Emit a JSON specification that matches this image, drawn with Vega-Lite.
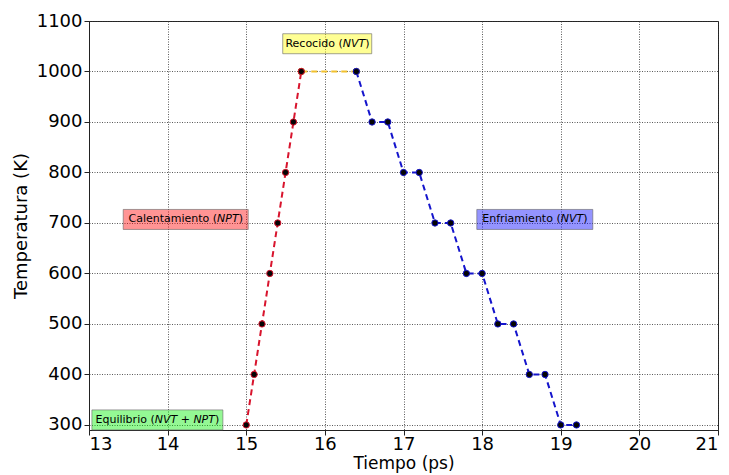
{
  "$schema": "https://vega.github.io/schema/vega-lite/v6.json",
  "width": 629,
  "height": 409,
  "autosize": {"type": "none"},
  "padding": {"left": 89, "top": 21, "right": 11, "bottom": 45},
  "background": "white",
  "config": {
    "font": "DejaVu Sans",
    "view": {"stroke": "#222", "strokeWidth": 1},
    "axis": {
      "domainColor": "#222",
      "domainWidth": 1,
      "tickColor": "#222",
      "tickSize": 5,
      "tickWidth": 1,
      "labelFont": "DejaVu Sans",
      "labelFontSize": 18,
      "labelColor": "black",
      "labelPadding": 2,
      "titleFont": "DejaVu Sans",
      "titleFontSize": 18,
      "titleFontWeight": "normal",
      "titleColor": "black",
      "grid": true,
      "gridColor": "#333",
      "gridOpacity": 0.9,
      "gridWidth": 0.9,
      "gridDash": [1, 1.5]
    }
  },
  "datasets": {
    "serie": [
      {"fase": "Recocido", "t": 15.7, "T": 1000},
      {"fase": "Recocido", "t": 16.4, "T": 1000},
      {"fase": "Calentamiento", "t": 15.0, "T": 300},
      {"fase": "Calentamiento", "t": 15.1, "T": 400},
      {"fase": "Calentamiento", "t": 15.2, "T": 500},
      {"fase": "Calentamiento", "t": 15.3, "T": 600},
      {"fase": "Calentamiento", "t": 15.4, "T": 700},
      {"fase": "Calentamiento", "t": 15.5, "T": 800},
      {"fase": "Calentamiento", "t": 15.6, "T": 900},
      {"fase": "Calentamiento", "t": 15.7, "T": 1000},
      {"fase": "Enfriamiento", "t": 16.4, "T": 1000},
      {"fase": "Enfriamiento", "t": 16.6, "T": 900},
      {"fase": "Enfriamiento", "t": 16.8, "T": 900},
      {"fase": "Enfriamiento", "t": 17.0, "T": 800},
      {"fase": "Enfriamiento", "t": 17.2, "T": 800},
      {"fase": "Enfriamiento", "t": 17.4, "T": 700},
      {"fase": "Enfriamiento", "t": 17.6, "T": 700},
      {"fase": "Enfriamiento", "t": 17.8, "T": 600},
      {"fase": "Enfriamiento", "t": 18.0, "T": 600},
      {"fase": "Enfriamiento", "t": 18.2, "T": 500},
      {"fase": "Enfriamiento", "t": 18.4, "T": 500},
      {"fase": "Enfriamiento", "t": 18.6, "T": 400},
      {"fase": "Enfriamiento", "t": 18.8, "T": 400},
      {"fase": "Enfriamiento", "t": 19.0, "T": 300},
      {"fase": "Enfriamiento", "t": 19.2, "T": 300}
    ],
    "etiquetas": [
      {"fase": "Equilibrio", "t": 13.87, "T": 310, "pre": "Equilibrio (", "ital": "NVT + NPT", "post": ")"},
      {"fase": "Calentamiento", "t": 14.23, "T": 707, "pre": "Calentamiento (", "ital": "NPT", "post": ")"},
      {"fase": "Recocido", "t": 16.03, "T": 1055, "pre": "Recocido (", "ital": "NVT", "post": ")"},
      {"fase": "Enfriamiento", "t": 18.67, "T": 707, "pre": "Enfriamiento (", "ital": "NVT", "post": ")"}
    ]
  },
  "encoding": {
    "x": {
      "field": "t",
      "type": "quantitative",
      "title": "Tiempo (ps)",
      "scale": {"domain": [13, 21], "nice": false, "zero": false},
      "axis": {"values": [13, 14, 15, 16, 17, 18, 19, 20, 21], "format": "d", "labelPadding": 0, "titlePadding": 2, "titleFontSize": 17}
    },
    "y": {
      "field": "T",
      "type": "quantitative",
      "title": "Temperatura (K)",
      "scale": {"domain": [290, 1100], "nice": false, "zero": false},
      "axis": {"values": [300, 400, 500, 600, 700, 800, 900, 1000, 1100], "format": "d", "titlePadding": 6}
    }
  },
  "layer": [
    {
      "data": {"name": "serie"},
      "mark": {"type": "line", "strokeWidth": 2, "strokeDash": [6, 4]},
      "encoding": {
        "color": {
          "field": "fase",
          "type": "nominal",
          "scale": {"domain": ["Calentamiento", "Recocido", "Enfriamiento"], "range": ["#d8142d", "#f2c12e", "#1414cc"]},
          "legend": null
        }
      }
    },
    {
      "data": {"name": "serie"},
      "mark": {"type": "point", "filled": true, "fill": "#050505", "size": 40, "strokeWidth": 1, "opacity": 1},
      "encoding": {
        "stroke": {
          "field": "fase",
          "type": "nominal",
          "scale": {"domain": ["Calentamiento", "Recocido", "Enfriamiento"], "range": ["#d8142d", "#f2c12e", "#1414cc"]},
          "legend": null
        }
      }
    },
    {
      "data": {"name": "etiquetas"},
      "transform": [{"filter": "datum.fase === 'Equilibrio'"}],
      "layer": [
        {"mark": {"type": "rect", "width": 131, "height": 20, "fill": "#00ee00", "fillOpacity": 0.42, "stroke": "#666", "strokeOpacity": 0.6, "strokeWidth": 1}},
        {"mark": {"type": "text", "align": "right", "dx": -2.7, "fontSize": 11, "color": "black"}, "encoding": {"text": {"field": "pre"}}},
        {"mark": {"type": "text", "align": "left", "dx": -2.7, "fontSize": 11, "fontStyle": "italic", "color": "black"}, "encoding": {"text": {"field": "ital"}}},
        {"mark": {"type": "text", "align": "left", "dx": 57.6, "fontSize": 11, "color": "black"}, "encoding": {"text": {"field": "post"}}}
      ]
    },
    {
      "data": {"name": "etiquetas"},
      "transform": [{"filter": "datum.fase === 'Calentamiento'"}],
      "layer": [
        {"mark": {"type": "rect", "width": 125, "height": 20, "fill": "#ff0000", "fillOpacity": 0.42, "stroke": "#666", "strokeOpacity": 0.6, "strokeWidth": 1}},
        {"mark": {"type": "text", "align": "right", "dx": 31.4, "fontSize": 11, "color": "black"}, "encoding": {"text": {"field": "pre"}}},
        {"mark": {"type": "text", "align": "left", "dx": 31.4, "fontSize": 11, "fontStyle": "italic", "color": "black"}, "encoding": {"text": {"field": "ital"}}},
        {"mark": {"type": "text", "align": "left", "dx": 53, "fontSize": 11, "color": "black"}, "encoding": {"text": {"field": "post"}}}
      ]
    },
    {
      "data": {"name": "etiquetas"},
      "transform": [{"filter": "datum.fase === 'Recocido'"}],
      "layer": [
        {"mark": {"type": "rect", "width": 89, "height": 20, "fill": "#ffff00", "fillOpacity": 0.42, "stroke": "#666", "strokeOpacity": 0.6, "strokeWidth": 1}},
        {"mark": {"type": "text", "align": "right", "dx": 15.5, "fontSize": 11, "color": "black"}, "encoding": {"text": {"field": "pre"}}},
        {"mark": {"type": "text", "align": "left", "dx": 15.5, "fontSize": 11, "fontStyle": "italic", "color": "black"}, "encoding": {"text": {"field": "ital"}}},
        {"mark": {"type": "text", "align": "left", "dx": 38, "fontSize": 11, "color": "black"}, "encoding": {"text": {"field": "post"}}}
      ]
    },
    {
      "data": {"name": "etiquetas"},
      "transform": [{"filter": "datum.fase === 'Enfriamiento'"}],
      "layer": [
        {"mark": {"type": "rect", "width": 116, "height": 20, "fill": "#0000ff", "fillOpacity": 0.42, "stroke": "#666", "strokeOpacity": 0.6, "strokeWidth": 1}},
        {"mark": {"type": "text", "align": "right", "dx": 25.9, "fontSize": 11, "color": "black"}, "encoding": {"text": {"field": "pre"}}},
        {"mark": {"type": "text", "align": "left", "dx": 25.9, "fontSize": 11, "fontStyle": "italic", "color": "black"}, "encoding": {"text": {"field": "ital"}}},
        {"mark": {"type": "text", "align": "left", "dx": 48.4, "fontSize": 11, "color": "black"}, "encoding": {"text": {"field": "post"}}}
      ]
    }
  ]
}
